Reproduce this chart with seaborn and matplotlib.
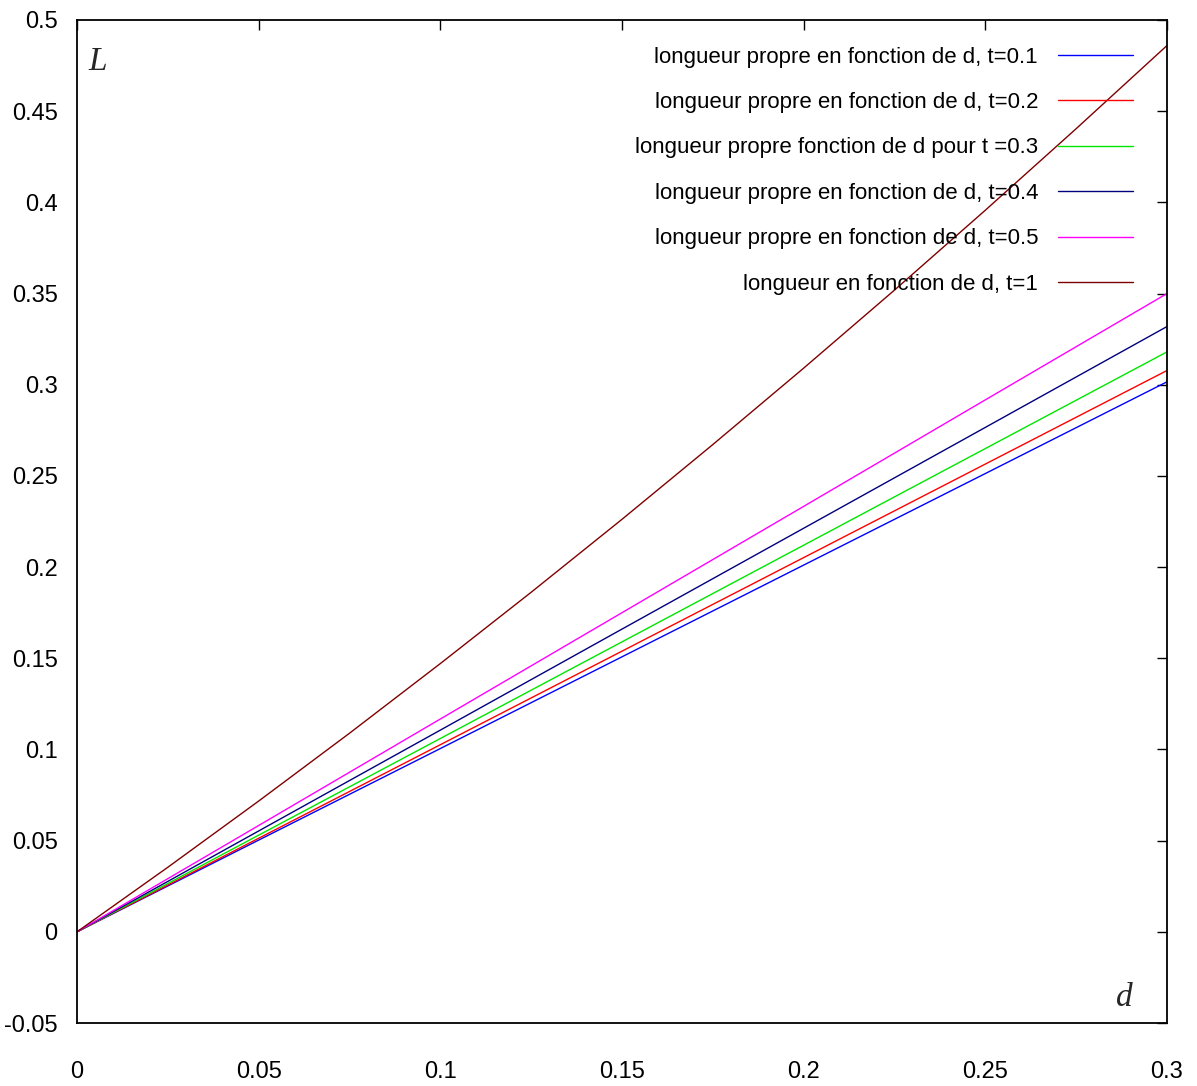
import numpy as np
import pandas as pd
import matplotlib
matplotlib.use("Agg")
import matplotlib.pyplot as plt
import seaborn as sns

# ---------------- data ----------------
d_lin = [0.0, 0.05, 0.10, 0.15, 0.20, 0.25, 0.30]
L_t01 = [0.0, 0.0503, 0.1005, 0.1508, 0.2011, 0.2513, 0.3016]
L_t02 = [0.0, 0.0513, 0.1026, 0.1539, 0.2052, 0.2565, 0.3078]
L_t03 = [0.0, 0.0530, 0.1060, 0.1590, 0.2120, 0.2650, 0.3180]
L_t04 = [0.0, 0.0553, 0.1106, 0.1660, 0.2213, 0.2766, 0.3319]
L_t05 = [0.0, 0.0583, 0.1167, 0.1750, 0.2333, 0.2917, 0.3500]

d_t1 = [0.0, 0.025, 0.05, 0.075, 0.10, 0.125, 0.15, 0.175, 0.20, 0.225, 0.25, 0.275, 0.30]
L_t1 = [0.0, 0.0354, 0.0717, 0.1089, 0.1471, 0.1862, 0.2262, 0.2672, 0.3091, 0.3519, 0.3957, 0.4404, 0.4860]

labels = [
    "longueur propre en fonction de d, t=0.1",
    "longueur propre en fonction de d, t=0.2",
    "longueur propre fonction de d pour t =0.3",
    "longueur propre en fonction de d, t=0.4",
    "longueur propre en fonction de d, t=0.5",
    "longueur en fonction de d, t=1",
]
colors = ["#0000ff", "#ff0000", "#00e600", "#00007f", "#ff00ff", "#7f0000"]

x_ticks = [0, 0.05, 0.1, 0.15, 0.2, 0.25, 0.3]
x_ticklabels = ["0", "0.05", "0.1", "0.15", "0.2", "0.25", "0.3"]
y_ticks = [-0.05, 0, 0.05, 0.1, 0.15, 0.2, 0.25, 0.3, 0.35, 0.4, 0.45, 0.5]
y_ticklabels = ["-0.05", "0", "0.05", "0.1", "0.15", "0.2", "0.25", "0.3",
                "0.35", "0.4", "0.45", "0.5"]

frames = []
for lab, L in zip(labels[:5], [L_t01, L_t02, L_t03, L_t04, L_t05]):
    frames.append(pd.DataFrame({"d": d_lin, "L": L, "serie": lab}))
frames.append(pd.DataFrame({"d": d_t1, "L": L_t1, "serie": labels[5]}))
df = pd.concat(frames, ignore_index=True)

# ---------------- style ----------------
sns.set_style("white")
plt.rcParams["font.family"] = ["Liberation Sans", "DejaVu Sans"]

fig = plt.figure(figsize=(11.97, 10.86), dpi=100)
ax = fig.add_axes([77 / 1197, 1 - 1023 / 1086, 1090 / 1197, 1003 / 1086])

sns.lineplot(data=df, x="d", y="L", hue="serie", hue_order=labels,
             palette=dict(zip(labels, colors)), linewidth=1.0, ax=ax,
             sort=True, estimator=None)

ax.set_xlim(0, 0.3)
ax.set_ylim(-0.05, 0.5)
ax.set_xticks(x_ticks)
ax.set_xticklabels(x_ticklabels)
ax.set_yticks(y_ticks)
ax.set_yticklabels(y_ticklabels)
ax.set_xlabel("")
ax.set_ylabel("")

ax.tick_params(axis="both", direction="in", length=7, width=1, color="black",
               top=True, right=True, labelsize=17, labelcolor="black")
ax.tick_params(axis="x", pad=27)
ax.tick_params(axis="y", pad=14)
for s in ax.spines.values():
    s.set_visible(True)
    s.set_color("black")
    s.set_linewidth(1.3)

ax.text(0.019, 0.958, "L", transform=ax.transAxes, ha="center", va="center",
        fontsize=24, fontstyle="italic", family=["Liberation Serif", "DejaVu Serif"])
ax.text(0.961, 0.025, "d", transform=ax.transAxes, ha="center", va="center",
        fontsize=24, fontstyle="italic", family=["Liberation Serif", "DejaVu Serif"])

handles, labs = ax.get_legend_handles_labels()
leg = ax.legend(handles, labs, loc="upper right", bbox_to_anchor=(0.969, 0.9735),
                frameon=False, markerfirst=False, fontsize=16, handlelength=3.38,
                handletextpad=0.9, labelspacing=1.1, borderpad=0, borderaxespad=0)
for t in leg.get_texts():
    t.set_color("black")
for h in leg.get_lines():
    h.set_linewidth(1.0)

fig.savefig("out.png", dpi=100, facecolor="white")
